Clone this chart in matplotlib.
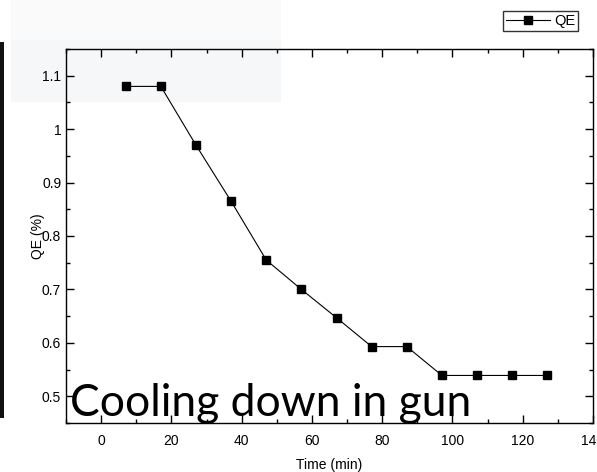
import matplotlib.pyplot as plt
from matplotlib.patches import Rectangle
from matplotlib.ticker import MultipleLocator, FuncFormatter

# данные
time_min = [7, 17, 27, 37, 47, 57, 67, 77, 87, 97, 107, 117, 127]
qe = [1.08, 1.08, 0.97, 0.865, 0.755, 0.70, 0.647, 0.593, 0.593, 0.539, 0.539, 0.539, 0.539]

plt.rcParams['font.family'] = ['Liberation Sans', 'DejaVu Sans']

W, H = 597, 472
fig = plt.figure(figsize=(W / 100, H / 100), dpi=100)

# светло-серый фон слева сверху и чёрная полоса слева
fig.patches.append(Rectangle((11 / W, 1 - 102 / H), 270 / W, 62 / H,
                             transform=fig.transFigure, facecolor='#f6f7f9',
                             edgecolor='none', zorder=0))
fig.patches.append(Rectangle((11 / W, 1 - 40 / H), 270 / W, 40 / H,
                             transform=fig.transFigure, facecolor='#fafafb',
                             edgecolor='none', zorder=0))
fig.patches.append(Rectangle((0, 1 - 418 / H), 3.5 / W, 376 / H,
                             transform=fig.transFigure, facecolor='#111111',
                             edgecolor='none', zorder=0))

ax = fig.add_axes([66 / W, 1 - 423 / H, 527 / W, 374 / H])
ax.set_zorder(2)
ax.patch.set_alpha(0)

ax.plot(time_min, qe, color='black', lw=0.8, marker='s', markersize=5.2,
        label='QE')

ax.set_xlim(-10, 140)
ax.set_ylim(0.45, 1.15)
ax.xaxis.set_major_locator(MultipleLocator(20))
ax.xaxis.set_minor_locator(MultipleLocator(10))
ax.yaxis.set_major_locator(MultipleLocator(0.1))
ax.yaxis.set_minor_locator(MultipleLocator(0.05))
ax.yaxis.set_major_formatter(FuncFormatter(lambda v, p: '{:g}'.format(round(v, 2))))

ax.tick_params(which='both', direction='in', top=True, right=True, labelsize=10)
ax.tick_params(which='major', length=5.5, width=1)
ax.tick_params(which='minor', length=3, width=1)
ax.tick_params(axis='x', pad=8)
for s in ax.spines.values():
    s.set_linewidth(1)

ax.set_xlabel('Time (min)', fontsize=10, labelpad=7)
ax.set_ylabel('QE (%)', fontsize=10)
ax.yaxis.set_label_coords(-0.04, 0.5)

ax.text(0.008, 0.02, 'Cooling down in gun', transform=ax.transAxes,
        fontsize=32, family=['Lato', 'DejaVu Sans'], va='baseline', ha='left')

fig.legend(loc='upper right', bbox_to_anchor=(578 / W, 1 - 11 / H),
           fontsize=10.5, frameon=True, fancybox=False, edgecolor='black',
           handlelength=3.0, borderpad=0.2, handletextpad=0.3,
           borderaxespad=0)

fig.savefig('out.png', dpi=100)
